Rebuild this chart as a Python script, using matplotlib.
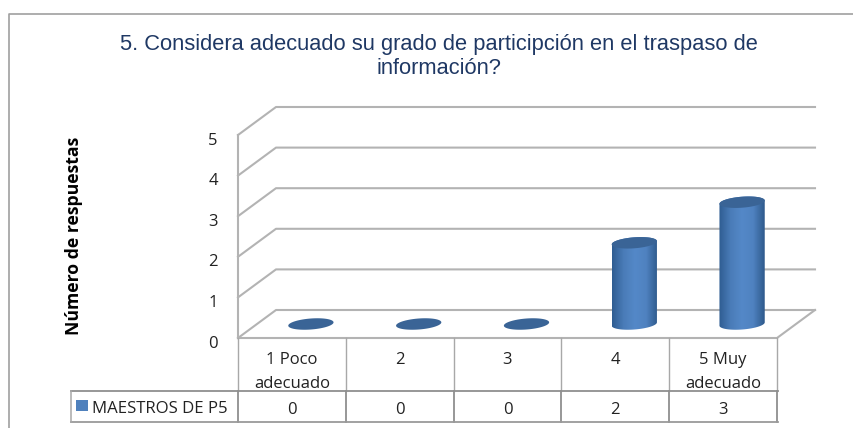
import numpy as np
import matplotlib
matplotlib.use("Agg")
import matplotlib.pyplot as plt
from matplotlib.patches import PathPatch
from matplotlib.path import Path
from matplotlib.colors import LinearSegmentedColormap

categories = ["1 Poco\nadecuado", "2", "3", "4", "5 Muy\nadecuado"]
values = [0, 0, 0, 2, 3]
value_labels = ["0", "0", "0", "2", "3"]
yticks = [0, 1, 2, 3, 4, 5]
series_name = "MAESTROS DE P5"
ylabel = "Número de respuestas"
title = "5. Considera adecuado su grado de participción en el traspaso de\ninformación?"

W, H = 854, 428
fig = plt.figure(figsize=(W / 100, H / 100), dpi=100)
fig.patch.set_facecolor("white")

title_font = "Liberation Sans"
body = "Open Sans"

def ax_rect(l, t, r, b):
    return [l / W, 1 - b / H, (r - l) / W, (b - t) / H]

# frame, drawn on an overlay in figure pixels
bg = fig.add_axes([0, 0, 1, 1], zorder=0)
bg.set_xlim(0, W); bg.set_ylim(H, 0); bg.axis("off")
bg.plot([9.5, 9.5, W], [H, 13.5, 13.5], color="#a0a0a0", lw=1.2, solid_capstyle="butt")

ax = fig.add_axes(ax_rect(238, 135, 777, 338), zorder=2)
ax.set_xlim(0, 5); ax.set_ylim(0, 5); ax.axis("off")
GRID = "#b3b3b3"
dx, dy = 38 / (539 / 5), 28 / (203 / 5)

for v in yticks:
    ax.plot([0, dx, 5 + dx], [v, v + dy, v + dy], color=GRID, lw=1.5, clip_on=False, zorder=1)
    ax.annotate(str(v), (0, v), xytext=(-18, -4), textcoords="offset points", ha="center", va="center",
                fontsize=12, family=body, color="#222222", annotation_clip=False)
ax.plot([0, 0], [0, 5], color=GRID, lw=1.5, clip_on=False, zorder=1)
ax.plot([0, 5, 5 + dx], [0, 0, dy], color=GRID, lw=1.5, clip_on=False, zorder=1)

cmap = LinearSegmentedColormap.from_list("cyl", ["#2f5d92", "#4a7cb8", "#5488c8", "#4f82c0", "#2f5a8c"])
grad = np.linspace(0, 1, 64).reshape(1, -1)
rw, rh = 0.21, 5.5 / (203 / 5)
tilt = 0.3 * rh
for i, v in enumerate(values):
    cx = i + 0.5 + dx / 2
    base = dy / 2
    t = np.linspace(0, 2 * np.pi, 120)
    if v > 0:
        lo = np.linspace(np.pi, 2 * np.pi, 60)
        bx = cx + rw * np.cos(lo); by = base + rh * np.sin(lo) + tilt * np.cos(lo)
        hi = np.linspace(0, np.pi, 60)
        tx = cx + rw * np.cos(hi); ty = base + v + rh * np.sin(hi) + tilt * np.cos(hi)
        poly = np.column_stack([np.r_[bx, tx], np.r_[by, ty]])
        im = ax.imshow(grad, extent=[cx - rw, cx + rw, base - 1, base + v + 1], cmap=cmap,
                       aspect="auto", zorder=3)
        im.set_clip_path(PathPatch(Path(np.vstack([poly, poly[:1]])), transform=ax.transData))
    ex = cx + rw * np.cos(t)
    ey = base + v + rh * np.sin(t) + tilt * np.cos(t)
    ax.fill(ex, ey, color="#3a6496", lw=0, zorder=4, clip_on=False)
ax.set_xlim(0, 5); ax.set_ylim(0, 5)

# data table and outer labels
tb = fig.add_axes([0, 0, 1, 1], zorder=3)
tb.set_xlim(0, W); tb.set_ylim(H, 0); tb.axis("off")
xs = [238 + 107.8 * i for i in range(6)]
for x in xs:
    tb.plot([x, x], [338, 391], color="#a8a8a8", lw=1.0)
    tb.plot([x, x], [391, 422], color="#8f8f8f", lw=1.3)
tb.plot([71, 778], [391, 391], color="#8f8f8f", lw=1.3)
tb.plot([71, 778], [422, 422], color="#9a9a9a", lw=1.3)
tb.plot([71, 71], [391, 422], color="#a8a8a8", lw=1.1)
for i, c in enumerate(categories):
    xc = (xs[i] + xs[i + 1]) / 2
    for j, line in enumerate(c.split("\n")):
        tb.text(xc, 360 + j * 24, line, ha="center", va="center", fontsize=12, family=body, color="#222222")
    tb.text(xc, 410, value_labels[i], ha="center", va="center", fontsize=12, family=body, color="#222222")
tb.fill([76, 88, 88, 76], [400, 400, 411, 411], color="#4f81bd", lw=0)
tb.text(92.5, 409, series_name, ha="left", va="center", fontsize=12.1, family=body, color="#222222")
tb.text(74, 235.5, ylabel, rotation=90, ha="center", va="center", fontsize=12.7, fontweight="bold",
        family=body, color="black")

fig.text(439 / W, 1 - 56.5 / H, title, ha="center", va="center", fontsize=15.75, family=title_font,
         color="#1f3864", linespacing=1.22)

fig.savefig("out.png", dpi=100)
